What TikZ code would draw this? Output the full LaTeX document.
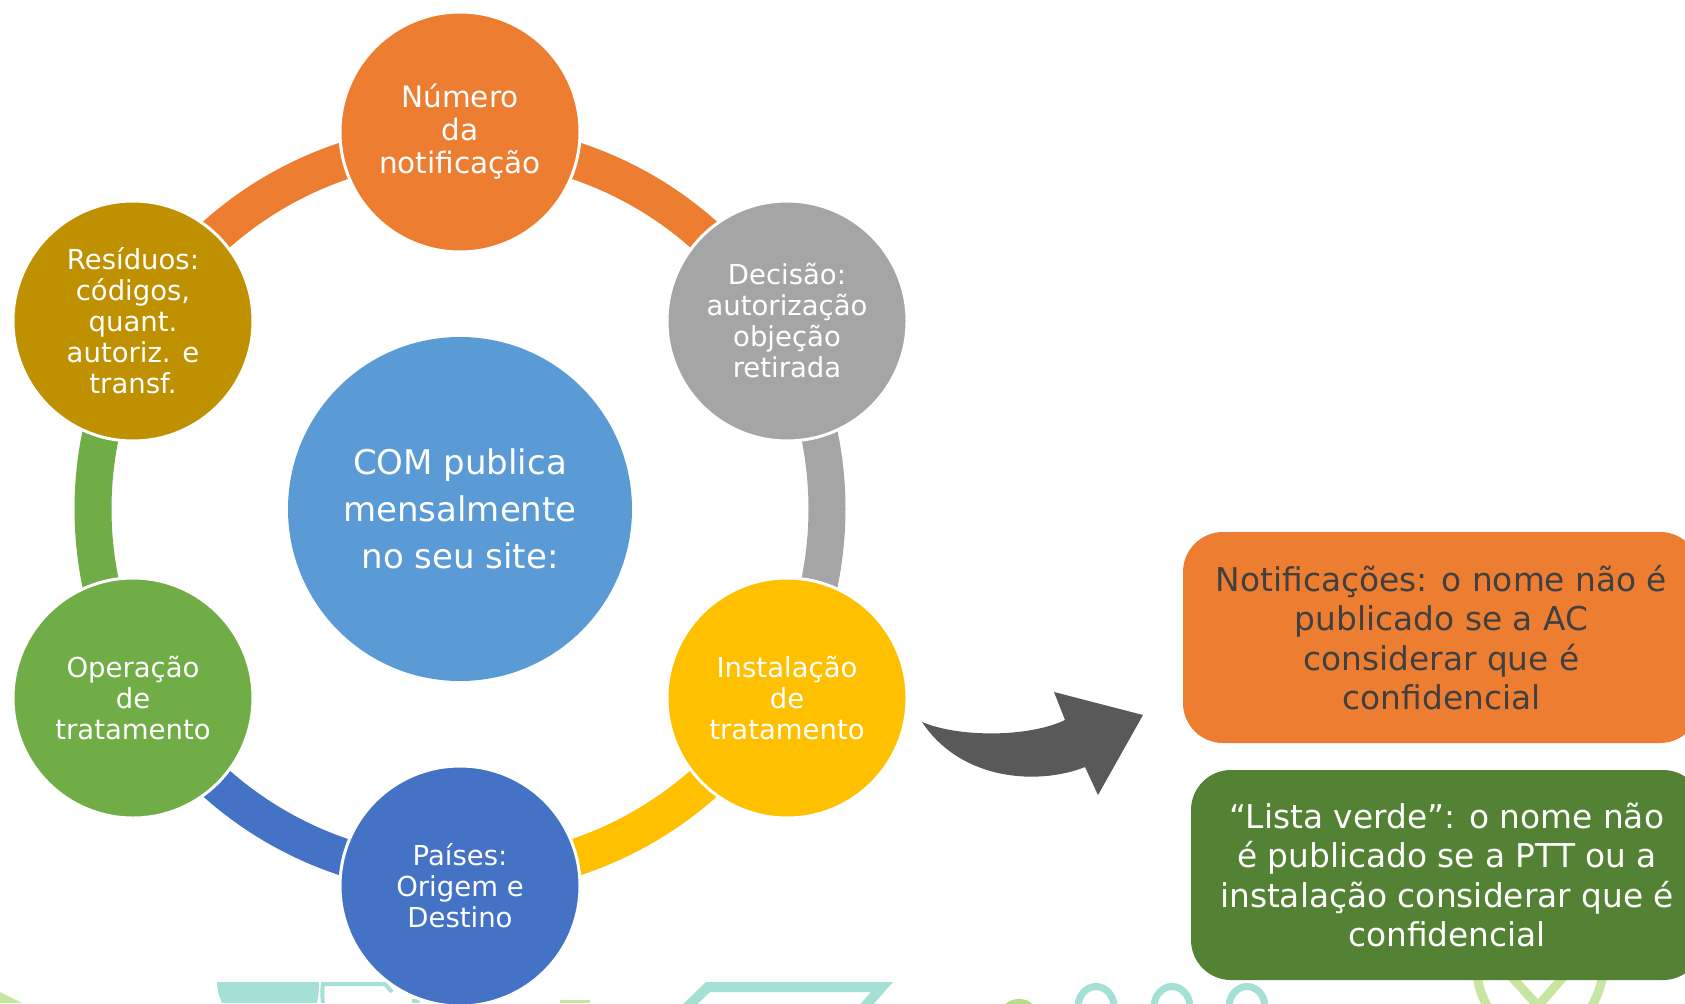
\documentclass[tikz,border=0pt]{standalone}
\usepackage{fontspec}
\setmainfont{DejaVu Sans}
\definecolor{corange}{HTML}{ED7D31}
\definecolor{cgray}{HTML}{A5A5A5}
\definecolor{cyellow}{HTML}{FFC000}
\definecolor{cblue}{HTML}{4472C4}
\definecolor{cgreen}{HTML}{70AD47}
\definecolor{cgold}{HTML}{BF9000}
\definecolor{ccenter}{HTML}{5B9BD5}
\definecolor{cdkgreen}{HTML}{548235}
\definecolor{carrow}{HTML}{595959}
\definecolor{ctext}{HTML}{404040}
\definecolor{cteal}{HTML}{A5E0D7}
\definecolor{clgreen}{HTML}{C6E6A2}
\definecolor{clgreenb}{HTML}{B5DF86}
\begin{document}
\begin{tikzpicture}[x=1pt,y=-1pt,
  circ/.style={circle, draw=white, line width=3pt, minimum size=240pt, inner sep=0pt,
    text=white, align=center, font=\fontsize{27.5}{31}\selectfont},
  ringarc/.style={line width=37pt},
  rbox/.style={rectangle, rounded corners=40pt, inner sep=0pt, align=center,
    font=\fontsize{32.8}{39.4}\selectfont},
  deco/.style={cteal, line width=7pt},
  decog/.style={clgreen, line width=9pt}]
\useasboundingbox (0,0) rectangle (1685,1003);
\clip (0,0) rectangle (1685,1003);
\fill[white] (0,0) rectangle (1685,1003);
% bottom decorations
\fill[clgreen] (0,992) -- (22,1003) -- (0,1003) -- cycle;
\fill[cteal] (217,982) -- (319,982) .. controls (319,992) and (318,998) .. (317,1003) -- (222,1003) .. controls (219,996) and (217,990) .. cycle;
\draw[cteal, line width=4pt] (323,1003) .. controls (322,995) and (322,990) .. (323,984) -- (385,984) -- (392,992);
\fill[cteal] (412,999) rectangle (420,1003);
\fill[clgreen] (560,1000) rectangle (590,1003);
\draw[cteal, line width=10pt, line join=miter] (682,1012) -- (708,987) -- (882,987) -- (860,1012);
\fill[clgreenb] (1019,1010) ellipse [x radius=16, y radius=11];
\draw[deco] (1096,1007) ellipse [x radius=18, y radius=20.5];
\draw[deco] (1172,1007) ellipse [x radius=18, y radius=20.5];
\draw[deco] (1247,1007) ellipse [x radius=18, y radius=20.5];
\draw[decog] (1477,975) .. controls (1479,990) and (1483,998) .. (1487,1006);
\draw[decog] (1510,975) -- (1538,1006);
\draw[decog] (1565,975) -- (1538,1006);
\draw[decog] (1603,975) .. controls (1600,990) and (1596,998) .. (1592,1006);
% center
\node[circle, fill=ccenter, minimum size=344pt, inner sep=0pt, text=white, align=center,
  font=\fontsize{34}{46.7}\selectfont] (c0) at (460,509) {COM publica\\mensalmente\\no seu site:};
% ring
\draw[ringarc, corange] (c0.center) ++(210:367) arc[start angle=210, end angle=270, radius=367];
\draw[ringarc, corange] (c0.center) ++(270:367) arc[start angle=270, end angle=330, radius=367];
\draw[ringarc, cgray] (c0.center) ++(330:367) arc[start angle=330, end angle=390, radius=367];
\draw[ringarc, cyellow] (c0.center) ++(30:367) arc[start angle=30, end angle=90, radius=367];
\draw[ringarc, cblue] (c0.center) ++(90:367) arc[start angle=90, end angle=150, radius=367];
\draw[ringarc, cgreen] (c0.center) ++(150:367) arc[start angle=150, end angle=210, radius=367];
% outer circles
\node[circ, fill=corange, font=\fontsize{29.5}{33}\selectfont] (num) at (460,132) {Número\\da\\notificação};
\node[circ, fill=cgray] (dec) at (787,321) {Decisão:\\autorização\\objeção\\retirada};
\node[circ, fill=cyellow] (inst) at (787,698) {Instalação\\de\\tratamento};
\node[circ, fill=cblue] (pai) at (460,886) {Países:\\Origem e\\Destino};
\node[circ, fill=cgreen] (op) at (133,698) {Operação\\de\\tratamento};
\node[circ, fill=cgold] (res) at (133,321) {Resíduos:\\códigos,\\quant.\\autoriz. e\\transf.};
% arrow
\fill[carrow] (922,722) .. controls (960,738) and (1030,737) .. (1065,720) -- (1054,692) -- (1143,715) -- (1098,795) -- (1085,767) .. controls (1040,785) and (962,782) .. cycle;
% boxes
\node[rbox, fill=corange, text=ctext, minimum width=517pt, minimum height=211pt] (nb) at (1441.5,637.5)
  {Notificações: o nome não é\\publicado se a AC\\considerar que é\\confidencial};
\node[rbox, fill=cdkgreen, text=white, minimum width=512pt, minimum height=210pt] (gb) at (1447,875)
  {“Lista verde”: o nome não\\é publicado se a PTT ou a\\instalação considerar que é\\confidencial};
\end{tikzpicture}
\end{document}
